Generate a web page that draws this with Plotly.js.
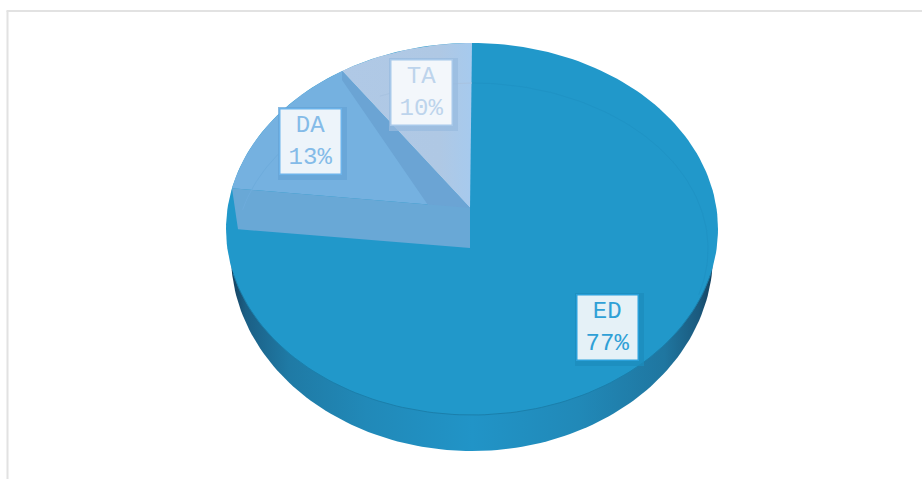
<!DOCTYPE html>
<html>
<head>
<meta charset="utf-8">
<script src="https://cdn.plot.ly/plotly-3.0.1.min.js"></script>
<style>html,body{margin:0;padding:0;background:#fff}#c{width:922px;height:479px}</style>
</head>
<body>
<div id="c"></div>
<script>
const categories = ['ED', 'DA', 'TA'];
const shares = [77, 13, 10];
const sliceColors = ['#2198ca', '#75b1e0', '#acc8e6'];
const labelText = ['#2fa0d6', '#84bbe8', '#bdd4ec'];
const labelFill = ['#e5f1f7', '#edf4fa', '#f3f7fb'];
const labelEdge = ['#2aa0da', '#6cb3ea', '#a8c9ea'];
const labelShade = ['#1c8cbc', '#66a4d7', '#98bbdf'];
const labelCentres = [[607, 327], [310, 141], [421, 92]];

// Tilted-pie geometry, in page pixels (the axes map 1:1 onto the page)
const top3d = {cx: 472, cy: 229, rx: 246, ry: 186};
const base3d = {cx: 472, cy: 255, rx: 241, ry: 196};
const inner3d = {cx: 472, cy: 249, rx: 236, ry: 166};
const apex = [470, 208];

function foreshorten(deg) { return deg * (0.849 + 0.001026 * deg); }
function rim(e, deg) {   // deg measured anticlockwise from 12 o'clock
  const r = deg * Math.PI / 180;
  return [e.cx - e.rx * Math.sin(r), e.cy - e.ry * Math.cos(r)];
}
function arc(e, a, b, step) {
  const out = [], n = Math.ceil(Math.abs(b - a) / (step || 1.5));
  for (let i = 0; i <= n; i++) out.push(rim(e, a + (b - a) * i / n));
  return out;
}
function poly(points, color, extra) {
  return Object.assign({
    type: 'scatter', mode: 'lines', fill: 'toself', fillcolor: color,
    x: points.map(p => p[0]), y: points.map(p => p[1]),
    line: {width: 0, color: color}, hoverinfo: 'skip', showlegend: false
  }, extra || {});
}
function stroke(points, color) {
  return {type: 'scatter', mode: 'lines', hoverinfo: 'skip', showlegend: false,
    x: points.map(p => p[0]), y: points.map(p => p[1]), line: {color: color, width: 1}};
}

const total = shares.reduce((a, b) => a + b, 0);
const taEnd = foreshorten(360 * shares[2] / total);
const daEnd = foreshorten(360 * (shares[2] + shares[1]) / total);
const pTA = rim(top3d, taEnd), pDA = rim(top3d, daEnd);
const c0 = sliceColors[0], c1 = sliceColors[1], c2 = sliceColors[2];

const traces = [
  // extruded side
  poly(arc(base3d, 0, 360), '#2193c6', {
    fillgradient: {type: 'horizontal', colorscale: [
      [0, '#153f5c'], [0.03, '#1b5f85'], [0.12, '#1f7aa5'], [0.28, '#2189b8'],
      [0.5, '#2194c7'], [0.72, '#2189b8'], [0.9, '#1f76a0'], [0.97, '#1b5a7e'], [1, '#153f5c']
    ]}
  }),
  // ED: the whole top face, the other slices are laid over it
  poly(arc(top3d, 0, 360), c0),
  // TA face
  poly([apex].concat(arc(top3d, 0, taEnd)).concat([apex]), c2, {
    fillgradient: {type: 'horizontal', colorscale: [[0, '#b0c9e6'], [0.75, '#afc8e4'], [1, '#a6caee']]}
  }),
  // DA face
  poly([apex].concat(arc(top3d, taEnd, daEnd)).concat([apex]), c1),
  // wall between TA and DA
  poly([pTA, apex, [apex[0] - 40, apex[1]], [pTA[0], pTA[1] + 9], pTA], '#6ba4d4'),
  // wall below DA
  poly([pDA, apex, [apex[0], apex[1] + 40], [pDA[0] + 6, pDA[1] + 41], pDA], '#69a8d6'),
  // bevel line of the top face
  stroke(arc(inner3d, -106, 0), '#1f93c5'),
  stroke(arc(inner3d, 0, taEnd * 0.72), '#a8c3e1'),
  stroke(arc(inner3d, 50, daEnd - 1), '#6eacdc'),
  // lower edge of the top face
  stroke(arc(top3d, 104, 256), '#1b7fab')
];

const boxW = 60, boxH = 64;
const shapes = [
  {type: 'line', xref: 'x', yref: 'y', x0: 7.5, x1: 7.5, y0: 11, y1: 479, line: {color: '#e2e2e2', width: 2}},
  {type: 'line', xref: 'x', yref: 'y', x0: 6.5, x1: 922, y0: 11, y1: 11, line: {color: '#e2e2e2', width: 2}}
];
const annotations = [];
categories.forEach((cat, i) => {
  const c = labelCentres[i];
  shapes.push({type: 'rect', xref: 'x', yref: 'y', layer: 'above',
    x0: c[0] - boxW / 2 - 2, x1: c[0] + boxW / 2 + 7, y0: c[1] - boxH / 2 - 2, y1: c[1] + boxH / 2 + 7,
    fillcolor: labelShade[i], opacity: 0.75, line: {width: 0}});
  annotations.push({
    xref: 'x', yref: 'y', x: c[0], y: c[1], xanchor: 'center', yanchor: 'middle',
    text: cat + '<br>' + shares[i] + '%', showarrow: false, align: 'center', valign: 'middle',
    width: boxW, height: boxH, bgcolor: labelFill[i], bordercolor: labelEdge[i], borderwidth: 1.5, borderpad: 0,
    font: {family: '"Liberation Mono", monospace', size: 24, color: labelText[i]}
  });
});

Plotly.newPlot('c', traces, {
  width: 922, height: 479,
  margin: {l: 0, r: 0, t: 0, b: 0},
  paper_bgcolor: '#ffffff', plot_bgcolor: '#ffffff',
  showlegend: false,
  xaxis: {visible: false, range: [0, 922], fixedrange: true},
  yaxis: {visible: false, range: [479, 0], fixedrange: true},
  shapes: shapes,
  annotations: annotations
}, {displayModeBar: false, staticPlot: true});
</script>
</body>
</html>
